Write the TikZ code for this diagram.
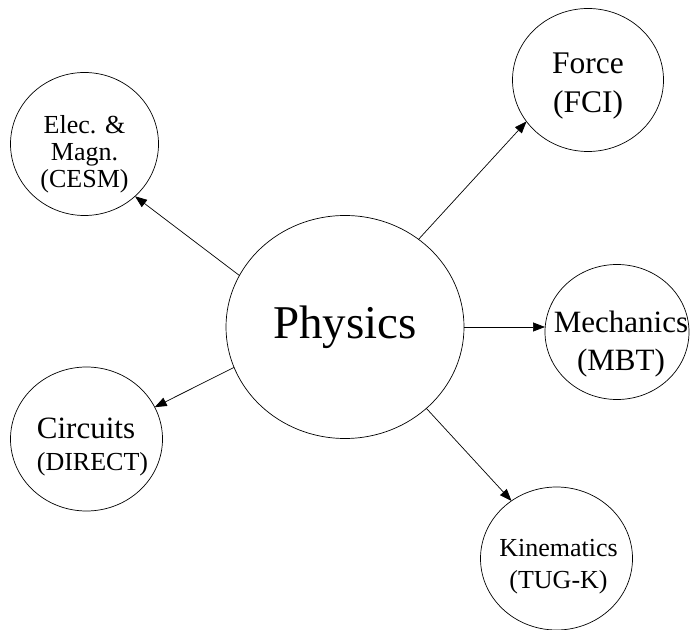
\documentclass[tikz,border=0pt]{standalone}
\usepackage{fontspec}
\setmainfont{Liberation Serif}
\usetikzlibrary{shapes.geometric, arrows.meta}
\begin{document}
\begin{tikzpicture}[x=1pt, y=1pt, >={Triangle[length=12pt, width=9pt]}, line width=0.7pt,
  bubble/.style={ellipse, draw, inner sep=0pt, outer sep=0pt},
  txt/.style={inner sep=0pt, align=center}]
\useasboundingbox (0,0) rectangle (692,629);
% the six bubbles
\node[bubble, minimum width=238pt, minimum height=223pt] (phys) at (345,302) {};
\node[bubble, minimum width=151pt, minimum height=143pt] (force) at (588,549) {};
\node[bubble, minimum width=148pt, minimum height=143pt] (elec) at (84.5,485) {};
\node[bubble, minimum width=144pt, minimum height=135pt] (mech) at (617,297) {};
\node[bubble, minimum width=152pt, minimum height=144pt] (circ) at (86.5,190) {};
\node[bubble, minimum width=152pt, minimum height=143pt] (kin) at (556.5,70.5) {};
% their texts
\node[txt, font=\fontsize{47}{50}\selectfont] (physT) at (phys) {Physics};
\node[txt, font=\fontsize{31.5}{39}\selectfont, yshift=-6.5pt] (forceT) at (force) {Force\\(FCI)};
\node[txt, font=\fontsize{26}{27}\selectfont, yshift=-10pt] (elecT) at (elec) {Elec. \&\\Magn.\\(CESM)};
\node[txt, font=\fontsize{31}{38.5}\selectfont, xshift=4pt, yshift=-12pt] (mechT) at (mech) {Mechanics\\(MBT)};
\node[txt, align=left, font=\fontsize{26}{32.7}\selectfont, xshift=6pt, yshift=-8pt] (circT) at (circ) {{\fontsize{31}{32.7}\selectfont Circuits}\\(DIRECT)};
\node[txt, font=\fontsize{26}{31.6}\selectfont, xshift=2pt, yshift=-8pt] (kinT) at (kin) {Kinematics\\(TUG-K)};
% arrows
\draw[->] (phys.east) -- (phys.east -| mech.west);
\foreach \s/\t in {phys.50/force.214, phys.154/elec.314, phys.200/circ.25, phys.315/kin.128} {
\draw[->] (\s) -- (\t);}
\end{tikzpicture}
\end{document}
